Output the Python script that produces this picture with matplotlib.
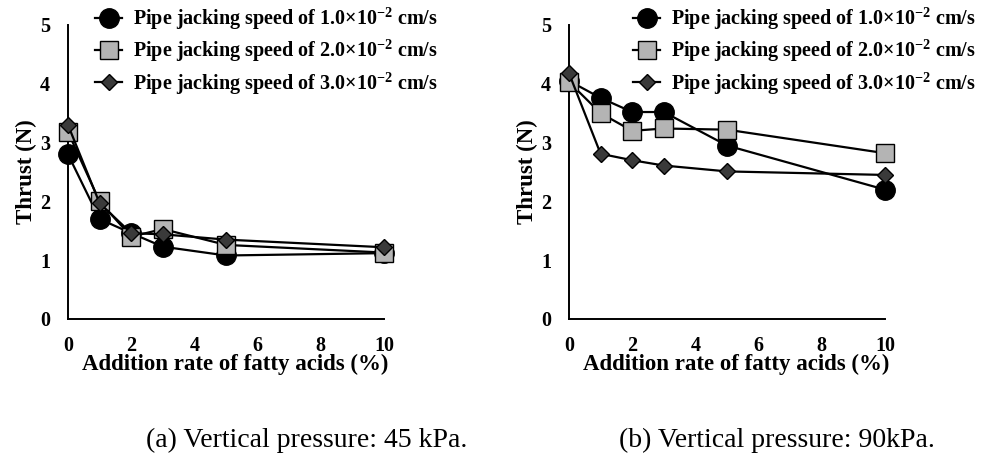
import matplotlib
matplotlib.use("Agg")
import matplotlib.pyplot as plt
from matplotlib.lines import Line2D

plt.rcParams["font.family"] = ["Liberation Serif", "DejaVu Serif"]
plt.rcParams["mathtext.fontset"] = "custom"
plt.rcParams["mathtext.rm"] = "Liberation Serif:bold"
plt.rcParams["mathtext.it"] = "Liberation Serif:bold"
plt.rcParams["mathtext.bf"] = "Liberation Serif:bold"

# addition rate of fatty acids (%)
rates = [0, 1, 2, 3, 5, 10]

# (a) vertical pressure 45 kPa
thrust_45_v1 = [2.80, 1.70, 1.46, 1.23, 1.08, 1.12]
thrust_45_v2 = [3.18, 2.00, 1.40, 1.53, 1.26, 1.13]
thrust_45_v3 = [3.30, 1.97, 1.46, 1.44, 1.35, 1.22]

# (b) vertical pressure 90 kPa
thrust_90_v1 = [4.05, 3.76, 3.52, 3.52, 2.95, 2.20]
thrust_90_v2 = [4.03, 3.50, 3.20, 3.24, 3.22, 2.82]
thrust_90_v3 = [4.18, 2.81, 2.70, 2.61, 2.51, 2.45]

speed_labels = [
    "Pipe jacking speed of 1.0\u00d710$^{-2}$ cm/s",
    "Pipe jacking speed of 2.0\u00d710$^{-2}$ cm/s",
    "Pipe jacking speed of 3.0\u00d710$^{-2}$ cm/s",
]
captions = ["(a) Vertical pressure: 45 kPa.", "(b) Vertical pressure: 90kPa."]

styles = [
    dict(marker="o", markersize=14, markerfacecolor="black"),
    dict(marker="s", markersize=12.5, markerfacecolor="#b4b4b4"),
    dict(marker="D", markersize=8.5, markerfacecolor="#3a3a3a"),
]

W, H = 984, 455
fig = plt.figure(figsize=(W / 100, H / 100), dpi=100)

# (axes left px, series, legend handle start px, caption center px)
panels = [
    (68, [thrust_45_v1, thrust_45_v2, thrust_45_v3], 95, 307),
    (569, [thrust_90_v1, thrust_90_v2, thrust_90_v3], 633, 777),
]

for i, (left, series, leg_x, cap_x) in enumerate(panels):
    ax = fig.add_axes([left / W, 1 - 319 / H, 316 / W, 294 / H])
    for ys, st in zip(series, styles):
        ax.plot(rates, ys, color="black", lw=1.6, markeredgecolor="black",
                markeredgewidth=1.0, clip_on=False, zorder=3, **st)
    ax.set_xlim(0, 10)
    ax.set_ylim(0, 5)
    ax.set_xticks([0, 2, 4, 6, 8, 10])
    ax.set_yticks([0, 1, 2, 3, 4, 5])
    ax.tick_params(length=0, labelsize=14.5)
    ax.tick_params(axis="x", pad=12)
    ax.tick_params(axis="y", pad=13)
    for lab in ax.get_xticklabels() + ax.get_yticklabels():
        lab.set_fontweight("bold")
    ax.spines["top"].set_visible(False)
    ax.spines["right"].set_visible(False)
    ax.spines["left"].set_linewidth(1.4)
    ax.spines["bottom"].set_linewidth(1.4)
    ax.set_xlabel("Addition rate of fatty acids (%)", fontsize=16.5,
                  fontweight="bold", labelpad=-1)
    ax.xaxis.label.set_x(0.53)
    ax.set_ylabel("Thrust (N)", fontsize=16.5, fontweight="bold", labelpad=2)

    handles = [Line2D([], [], color="black", lw=1.6, markeredgecolor="black",
                      markeredgewidth=1.0, **st) for st in styles]
    fig.legend(handles, speed_labels, loc="upper left",
               bbox_to_anchor=(leg_x / W, 1 - 6 / H), frameon=False,
               prop=dict(weight="bold", size=14.5), handlelength=1.35,
               handletextpad=0.55, labelspacing=0.3, borderpad=0,
               borderaxespad=0)

    fig.text(cap_x / W, 8 / H, captions[i], ha="center", va="baseline",
             fontsize=20)

fig.savefig("out.png", dpi=100)
